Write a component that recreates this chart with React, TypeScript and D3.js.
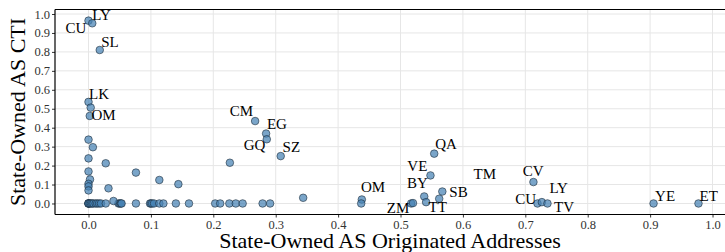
import React, { useEffect, useRef } from 'react';
import * as d3 from 'd3';

// [originated addresses share, CTI]
const points: [number, number][] = [
  [0, 0.965], [0.006, 0.951], [0.018, 0.81], [0, 0.536], [0.0035, 0.506], [0.002, 0.462],
  [0, 0.337], [0.007, 0.297], [0, 0.238], [0.0276, 0.212], [0, 0.169], [0.0024, 0.127],
  [0, 0.104], [0, 0.09], [0, 0.069], [0.032, 0.08], [0.076, 0.163], [0.1135, 0.124],
  [0.144, 0.102], [0.04, 0.013], [0.2265, 0.215], [0.267, 0.435], [0.2846, 0.369],
  [0.2857, 0.339], [0.308, 0.25], [0.344, 0.03], [0.438, 0.021], [0.437, 0],
  [0.554, 0.263], [0.548, 0.148], [0.538, 0.037], [0.541, 0.007], [0.567, 0.063],
  [0.562, 0.025], [0.517, 0], [0.52, 0.002], [0.713, 0.113], [0.7195, 0], [0.7265, 0.007],
  [0.7355, 0], [0.9055, 0], [0.9775, 0],
];

// countries sitting on CTI = 0
const zeroRow: number[] = [
  0, 0, 0, 0, 0.002, 0.004, 0.006, 0.008, 0.0115, 0.014, 0.017, 0.02, 0.0276, 0.048, 0.05,
  0.052, 0.053, 0.076, 0.0986, 0.1, 0.102, 0.105, 0.1135, 0.12, 0.14, 0.161, 0.203, 0.211,
  0.2257, 0.236, 0.247, 0.279, 0.291,
];

// label text with the spot (data units) where the repel step left it
const labelText = ['CU', 'LY', 'SL', 'LK', 'OM', 'CM', 'EG', 'GQ', 'SZ', 'OM', 'QA', 'VE', 'TM',
  'BY', 'SB', 'ZM', 'TT', 'CV', 'CU', 'LY', 'TV', 'YE', 'ET'];
const labelX = [-0.02, 0.021, 0.0345, 0.0168, 0.024, 0.245, 0.302, 0.266, 0.325, 0.456, 0.573,
  0.527, 0.635, 0.527, 0.593, 0.496, 0.5595, 0.7126, 0.7006, 0.7535, 0.762, 0.924, 0.994];
const labelY = [0.926, 0.995, 0.852, 0.577, 0.466, 0.488, 0.418, 0.307, 0.298, 0.086, 0.312,
  0.196, 0.157, 0.107, 0.063, -0.026, -0.021, 0.171, 0.026, 0.083, -0.016, 0.042, 0.042];

const xTicks = d3.range(0, 1.01, 0.1);
const yTicks = d3.range(0, 1.01, 0.1);

const W = 725;
const H = 252;

const Scatter = () => {
  const svgRef = useRef<SVGSVGElement>(null);

  useEffect(() => {
    const svg = d3.select(svgRef.current);
    svg.selectAll('*').remove();

    const left = 55, right = 725, top = 9.5, bottom = 214.5;
    const x = d3.scaleLinear().domain([-0.0537, 1.02]).range([left, right]);
    const y = d3.scaleLinear().domain([-0.0582, 1.0238]).range([bottom, top]);
    const font = '"Liberation Serif", "Times New Roman", serif';

    // grid
    svg.append('g').selectAll('line').data(yTicks).join('line')
      .attr('x1', left).attr('x2', right)
      .attr('y1', d => y(d)).attr('y2', d => y(d))
      .attr('stroke', '#e6e6e6').attr('stroke-width', 1);
    svg.append('g').selectAll('line').data(xTicks).join('line')
      .attr('y1', top).attr('y2', bottom)
      .attr('x1', d => x(d)).attr('x2', d => x(d))
      .attr('stroke', '#e6e6e6').attr('stroke-width', 1);

    // frame: top, left, bottom
    svg.append('line').attr('x1', left).attr('x2', right).attr('y1', top).attr('y2', top)
      .attr('stroke', '#000').attr('stroke-width', 1.2);

    const yAxis = svg.append('g')
      .attr('transform', `translate(${left},0)`)
      .call(d3.axisLeft(y).tickValues(yTicks).tickFormat(d3.format('.1f')).tickSize(3).tickPadding(2));
    const xAxis = svg.append('g')
      .attr('transform', `translate(0,${bottom})`)
      .call(d3.axisBottom(x).tickValues(xTicks).tickFormat(d3.format('.1f')).tickSize(3).tickPadding(3));
    [xAxis, yAxis].forEach(g => {
      g.select('.domain').remove();
      g.selectAll('text').attr('fill', '#333').style('font-family', font).style('font-size', '12.5px');
      g.selectAll('line').attr('stroke', '#333');
    });
    svg.append('line').attr('x1', left).attr('x2', left).attr('y1', top).attr('y2', bottom)
      .attr('stroke', '#000').attr('stroke-width', 1.2);
    svg.append('line').attr('x1', left).attr('x2', right).attr('y1', bottom).attr('y2', bottom)
      .attr('stroke', '#000').attr('stroke-width', 1.2);

    const all: [number, number][] = [...zeroRow.map(v => [v, 0] as [number, number]), ...points];
    svg.append('g').selectAll('circle').data(all).join('circle')
      .attr('cx', d => x(d[0]))
      .attr('cy', d => y(d[1]))
      .attr('r', 3.8)
      .attr('fill', 'steelblue')
      .attr('fill-opacity', 0.72)
      .attr('stroke', '#1b2b3b')
      .attr('stroke-opacity', 0.75)
      .attr('stroke-width', 0.8);

    svg.append('g').selectAll('text').data(labelText).join('text')
      .attr('x', (d, i) => x(labelX[i]))
      .attr('y', (d, i) => y(labelY[i]))
      .attr('text-anchor', 'middle')
      .attr('dominant-baseline', 'central')
      .style('font-family', font)
      .style('font-size', '15px')
      .attr('fill', '#000')
      .text(d => d);

    svg.append('text')
      .attr('x', (left + right) / 2)
      .attr('y', 248)
      .attr('text-anchor', 'middle')
      .style('font-family', font)
      .style('font-size', '22px')
      .text('State-Owned AS Originated Addresses');

    svg.append('text')
      .attr('transform', `translate(25,${(top + bottom) / 2}) rotate(-90)`)
      .attr('text-anchor', 'middle')
      .style('font-family', font)
      .style('font-size', '22px')
      .text('State-Owned AS CTI');
  }, []);

  return <svg ref={svgRef} width={W} height={H} style={{ position: 'absolute', left: 0, top: 0, background: '#fff' }} />;
};

export default function App() {
  return <Scatter />;
}
